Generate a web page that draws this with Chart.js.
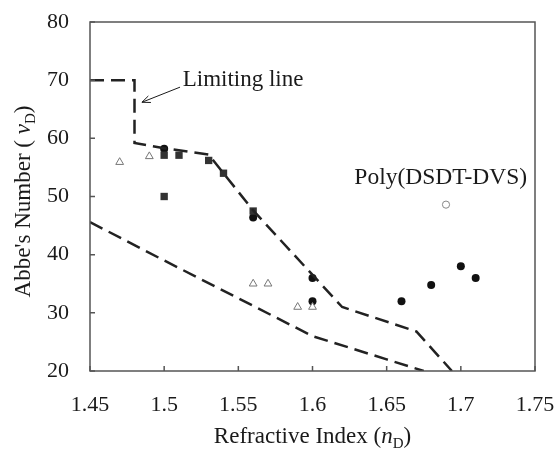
<!DOCTYPE html>
<html>
<head>
<meta charset="utf-8">
<script src="https://cdn.jsdelivr.net/npm/chart.js@4/dist/chart.umd.min.js"></script>
<style>
  html, body { margin: 0; padding: 0; background: #fff; }
  #wrap { width: 555px; height: 454px; }
</style>
</head>
<body>
<div id="wrap"><canvas id="abbe"></canvas></div>
<script>
// ---- data ----
var xTicks = [1.45, 1.5, 1.55, 1.6, 1.65, 1.7, 1.75];
var xTickLabels = ["1.45", "1.5", "1.55", "1.6", "1.65", "1.7", "1.75"];
var yTicks = [20, 30, 40, 50, 60, 70, 80];

// limiting line (upper dashed)
var limitX = [1.45, 1.48, 1.48, 1.50, 1.53, 1.56, 1.62, 1.67, 1.694];
var limitY = [70, 70, 59.2, 58.3, 57.2, 47.6, 31, 26.8, 20];

// lower dashed curve
var lowerX = [1.45, 1.50, 1.55, 1.60, 1.65, 1.675];
var lowerY = [45.6, 39.0, 32.5, 26.0, 22.0, 20];

// filled squares
var squareX = [1.50, 1.50, 1.51, 1.53, 1.54, 1.56];
var squareY = [57.1, 50, 57.1, 56.2, 54, 47.5];

// filled circles
var circleX = [1.50, 1.56, 1.60, 1.60, 1.66, 1.68, 1.70, 1.71];
var circleY = [58.2, 46.4, 36, 32, 32, 34.8, 38, 36];

// open triangles
var triX = [1.47, 1.49, 1.56, 1.57, 1.59, 1.60];
var triY = [55.9, 56.9, 35, 35, 31, 31];

// open circle: Poly(DSDT-DVS)
var polyX = [1.69];
var polyY = [48.6];

function pts(xs, ys) {
    return xs.map(function (x, i) { return {x: x, y: ys[i]}; });
}

var serif = "'Liberation Serif', 'DejaVu Serif', serif";
var ink = '#1a1a1a';

function drawRich(ctx, parts, x, y) {
    var cx = x;
    parts.forEach(function (p) {
        ctx.font = (p.italic ? 'italic ' : '') + (p.sub ? '15px ' : '23px ') + serif;
        ctx.fillText(p.t, cx, y + (p.sub ? 5 : 0));
        cx += ctx.measureText(p.t).width;
    });
}
function richWidth(ctx, parts) {
    var w = 0;
    parts.forEach(function (p) {
        ctx.font = (p.italic ? 'italic ' : '') + (p.sub ? '15px ' : '23px ') + serif;
        w += ctx.measureText(p.t).width;
    });
    return w;
}

var extras = {
    id: 'extras',
    afterDraw: function (chart) {
        var ctx = chart.ctx, a = chart.chartArea;
        var xs = chart.scales.x, ys = chart.scales.y;
        ctx.save();
        // frame
        ctx.strokeStyle = '#555';
        ctx.lineWidth = 1.5;
        ctx.strokeRect(a.left, a.top, a.right - a.left, a.bottom - a.top);
        // inward ticks
        ctx.beginPath();
        xTicks.forEach(function (v) {
            var px = xs.getPixelForValue(v);
            ctx.moveTo(px, a.bottom); ctx.lineTo(px, a.bottom - 5);
        });
        yTicks.forEach(function (v) {
            var py = ys.getPixelForValue(v);
            ctx.moveTo(a.left, py); ctx.lineTo(a.left + 5, py);
        });
        ctx.stroke();

        ctx.fillStyle = ink;
        ctx.textBaseline = 'alphabetic';
        ctx.textAlign = 'left';
        // x title
        var xt = [{t: 'Refractive Index ('}, {t: 'n', italic: true}, {t: 'D', sub: true}, {t: ')'}];
        var w = richWidth(ctx, xt);
        drawRich(ctx, xt, (a.left + a.right) / 2 - w / 2, 443);
        // y title
        var yt = [{t: "Abbe's Number ( "}, {t: '\u03BD', italic: true}, {t: 'D', sub: true}, {t: ')'}];
        w = richWidth(ctx, yt);
        ctx.save();
        ctx.translate(30, (a.top + a.bottom) / 2 + 5);
        ctx.rotate(-Math.PI / 2);
        drawRich(ctx, yt, -w / 2, 0);
        ctx.restore();

        // annotation: Limiting line + arrow
        ctx.font = '23px ' + serif;
        ctx.textBaseline = 'middle';
        ctx.fillText('Limiting line', xs.getPixelForValue(1.5125), ys.getPixelForValue(70));
        var x1 = xs.getPixelForValue(1.5107), y1 = ys.getPixelForValue(68.8);
        var x2 = xs.getPixelForValue(1.485), y2 = ys.getPixelForValue(66.2);
        ctx.strokeStyle = ink;
        ctx.lineWidth = 1;
        ctx.beginPath();
        ctx.moveTo(x1, y1); ctx.lineTo(x2, y2);
        var ang = Math.atan2(y2 - y1, x2 - x1);
        ctx.moveTo(x2, y2);
        ctx.lineTo(x2 - 9 * Math.cos(ang - 0.4), y2 - 9 * Math.sin(ang - 0.4));
        ctx.moveTo(x2, y2);
        ctx.lineTo(x2 - 9 * Math.cos(ang + 0.4), y2 - 9 * Math.sin(ang + 0.4));
        ctx.stroke();

        // annotation: Poly(DSDT-DVS)
        ctx.font = '23.5px ' + serif;
        ctx.textAlign = 'right';
        ctx.fillText('Poly(DSDT-DVS)', xs.getPixelForValue(1.7447), ys.getPixelForValue(53.2));
        ctx.restore();
    }
};

var ctx = document.getElementById('abbe').getContext('2d');
var chart = new Chart(ctx, {
    type: 'scatter',
    data: {
        datasets: [{
            data: pts(limitX, limitY),
            showLine: true,
            borderColor: '#222',
            borderWidth: 2.5,
            borderDash: [14, 7],
            pointRadius: 0,
            tension: 0
        }, {
            data: pts(lowerX, lowerY),
            showLine: true,
            borderColor: '#222',
            borderWidth: 2.5,
            borderDash: [14, 7],
            pointRadius: 0,
            tension: 0
        }, {
            data: pts(triX, triY),
            pointStyle: 'triangle',
            pointRadius: 4.5,
            backgroundColor: '#fff',
            borderColor: '#777',
            borderWidth: 1
        }, {
            data: pts(squareX, squareY),
            pointStyle: 'rect',
            pointRadius: 5.2,
            backgroundColor: '#333',
            borderColor: '#333',
            borderWidth: 0
        }, {
            data: pts(circleX, circleY),
            pointStyle: 'circle',
            pointRadius: 4,
            backgroundColor: '#111',
            borderColor: '#111',
            borderWidth: 0
        }, {
            data: pts(polyX, polyY),
            pointStyle: 'circle',
            pointRadius: 3.6,
            backgroundColor: '#fff',
            borderColor: '#888',
            borderWidth: 1
        }]
    },
    options: {
        responsive: true,
        maintainAspectRatio: false,
        animation: false,
        layout: { padding: { top: 22, right: 20, left: 0, bottom: 0 } },
        plugins: {
            legend: { display: false },
            tooltip: { enabled: false }
        },
        scales: {
            x: {
                type: 'linear',
                min: 1.45,
                max: 1.75,
                afterBuildTicks: function (s) { s.ticks = xTicks.map(function (v) { return {value: v}; }); },
                afterFit: function (s) { s.height = 83; s.paddingLeft = 0; s.paddingRight = 0; },
                grid: { display: false, drawTicks: false },
                border: { display: false },
                ticks: {
                    padding: 21,
                    color: ink,
                    font: { family: serif, size: 22 },
                    callback: function (v) { return xTickLabels[xTicks.indexOf(v)]; }
                }
            },
            y: {
                type: 'linear',
                min: 20,
                max: 80,
                afterBuildTicks: function (s) { s.ticks = yTicks.map(function (v) { return {value: v}; }); },
                afterFit: function (s) { s.width = 90; s.paddingTop = 0; s.paddingBottom = 0; },
                grid: { display: false, drawTicks: false },
                border: { display: false },
                ticks: {
                    padding: 21,
                    color: ink,
                    font: { family: serif, size: 22 }
                }
            }
        }
    },
    plugins: [extras]
});
</script>
</body>
</html>
